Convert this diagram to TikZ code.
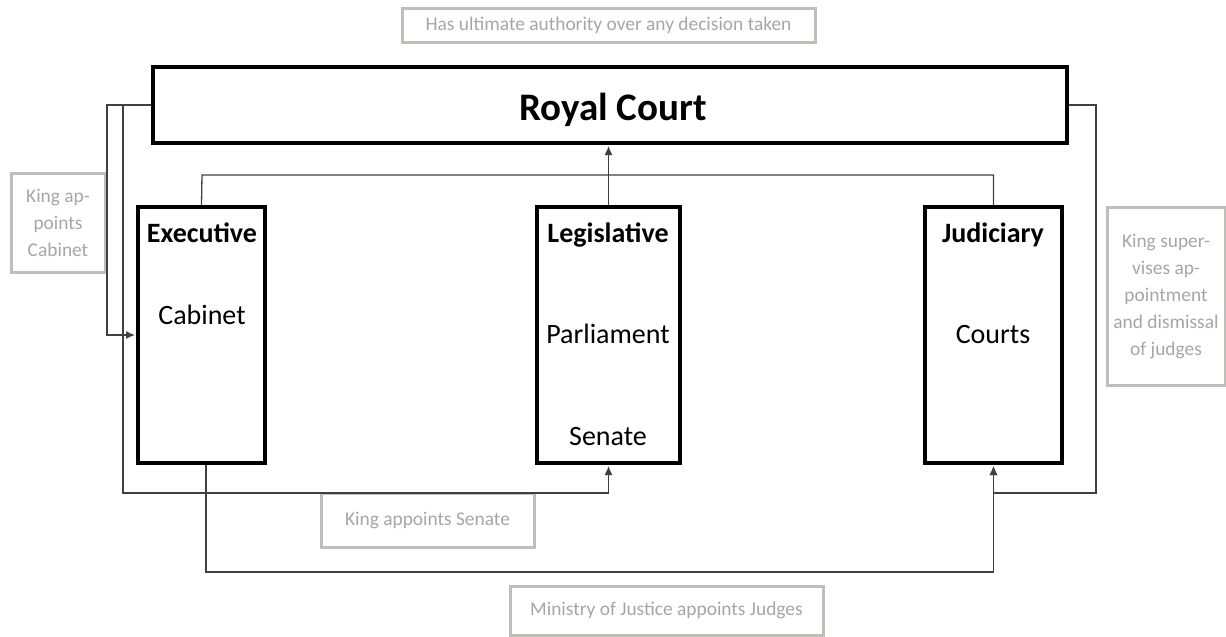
\documentclass[tikz,border=0pt]{standalone}
\usepackage{fontspec}
\setmainfont{Carlito}
\usetikzlibrary{arrows.meta}
\definecolor{lblgray}{HTML}{A6A6A6}
\definecolor{lblborder}{HTML}{BFBFBA}
\definecolor{conncol}{HTML}{404040}
\begin{document}
\begin{tikzpicture}[x=0.5pt,y=-0.5pt,
  mainbox/.style={draw=black,line width=2pt,inner sep=0pt},
  lbl/.style={draw=lblborder,line width=1.5pt,text=lblgray,inner sep=0pt,align=center,font=\fontsize{9.7}{13.5}\selectfont},
  conn/.style={draw=conncol,line width=0.65pt},
  arr/.style={-{Latex[length=4.5pt,width=4pt]},shorten >=0.5pt},
  boldtxt/.style={font=\fontsize{14}{16}\selectfont\bfseries,anchor=base,inner sep=0pt},
  regtxt/.style={font=\fontsize{14}{16}\selectfont,anchor=base,inner sep=0pt}]
\useasboundingbox (0,0) rectangle (1226,637);
\fill[white] (0,0) rectangle (1226,637);

% main boxes
\node[mainbox,minimum width=457pt,minimum height=38pt] (royal) at (610,105) {};
\node[font=\fontsize{19.5}{22}\selectfont\bfseries,anchor=base,inner sep=0pt] (royalt) at (613,120) {Royal Court};

\node[mainbox,minimum width=63.5pt,minimum height=128pt] (exec) at (201.5,335) {};
\node[boldtxt] (exect) at (202,242) {Executive};
\node[regtxt] (execc) at (202,324) {Cabinet};

\node[mainbox,minimum width=71.5pt,minimum height=128pt] (leg) at (608.5,335) {};
\node[boldtxt] (legt) at (608,242) {Legislative};
\node[regtxt] (legp) at (608,343) {Parliament};
\node[regtxt] (legs) at (608,445) {Senate};

\node[mainbox,minimum width=68.5pt,minimum height=128pt] (jud) at (993.5,335) {};
\node[boldtxt] (judt) at (993,242) {Judiciary};
\node[regtxt] (judc) at (993,343) {Courts};

% grey labels
\node[lbl,minimum width=206.5pt,minimum height=17pt] (ltop) at (608.5,25) {Has ultimate authority over any decision taken};
\node[lbl,minimum width=47pt,minimum height=49.5pt] (lleft) at (58,222.5) {King ap-\\points\\Cabinet};
\node[lbl,minimum width=59pt,minimum height=89pt] (lright) at (1166,296) {King super-\\vises ap-\\pointment\\and dismissal\\of judges};
\node[lbl,minimum width=106.5pt,minimum height=27pt] (lsen) at (427.5,520) {King appoints Senate};
\node[lbl,minimum width=156.5pt,minimum height=24.5pt] (lmin) at (666.5,610.5) {Ministry of Justice appoints Judges};

% connectors
\coordinate (c1) at (107,335);
\coordinate (c2) at (123,493);
\coordinate (c3) at (1096,493);
\coordinate (c4) at (206,572);
\coordinate (c5) at (202,175);

\draw[conn,arr] (royal.west) -| (c1) -- (exec.west);
\draw[conn,arr] (royal.west) -| (c2) -| (leg.south);
\draw[conn,arr] (royal.east) -| (c3) -| (jud.south);
\draw[conn,arr] (exec.south -| c4) -- (c4) -| (jud.south);
\draw[conn] (exec.north) -- (c5) -| (jud.north);
\draw[conn,arr] (leg.north) -- (royal.south -| leg.north);
\end{tikzpicture}
\end{document}
